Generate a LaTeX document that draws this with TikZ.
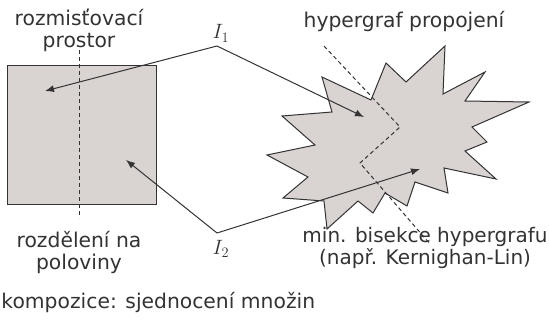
\documentclass[tikz,border=0pt]{standalone}
\usepackage{fontspec}
\setmainfont{DejaVu Sans}
\usetikzlibrary{arrows.meta}

\definecolor{areagray}{RGB}{217,211,209}
\definecolor{inkgray}{RGB}{51,51,51}

\begin{document}
\begin{tikzpicture}[x=1pt, y=-1pt, line width=1pt, draw=inkgray,
  every node/.style={font=\fontsize{20.3}{22}\selectfont, text=inkgray, inner sep=0pt, align=center},
  arr/.style={-{Latex[length=9pt,width=7pt]}, inkgray},
  cut/.style={dashed, dash pattern=on 4pt off 3pt, inkgray}]
\useasboundingbox (0,0) rectangle (549,321);

\draw[inkgray, fill=areagray] (7,66) rectangle (156,204);
\draw[cut] (79,50) -- (79,218);

\draw[inkgray, fill=areagray] (371,100) -- (386,63) -- (406,82) -- (445,46) -- (443,94)
  -- (485,72) -- (465,101) -- (529,102) -- (472,127) -- (487,142) -- (465,151)
  -- (496,179) -- (444,168) -- (448,193) -- (415,182) -- (407,206) -- (385,193)
  -- (373,213) -- (358,201) -- (327,229) -- (324,201) -- (283,198) -- (308,177)
  -- (267,155) -- (315,145) -- (282,116) -- (332,112) -- (322,77) -- cycle;
\draw[cut] (324,46) -- (400,127) -- (360,163) -- (430,244);

\coordinate (I1) at (217,46);
\coordinate (I2) at (217,233);
\coordinate (sq1) at (45,91);
\coordinate (sq2) at (126,160);
\coordinate (hg1) at (364,117);
\coordinate (hg2) at (420,169);

\draw[arr] (I1) -- (sq1);
\draw[arr] (I1) -- (hg1);
\draw[arr] (I2) -- (sq2);
\draw[arr] (I2) -- (hg2);

\node[anchor=base, font=\fontsize{22}{24}\selectfont] (i1) at (221,39) {$I_1$};
\node[anchor=base, font=\fontsize{22}{24}\selectfont] (i2) at (221,254) {$I_2$};

\node[anchor=base] (space) at (79,48) {rozmisťovací\\prostor};
\node[anchor=base] (halves) at (79,269) {rozdělení na\\poloviny};
\node[anchor=base] (hyper) at (404,28) {hypergraf propojení};
\node[anchor=base, font=\fontsize{20}{22}\selectfont] (bisect) at (425,264) {min. bisekce hypergrafu\\(např. Kernighan-Lin)};
\node[anchor=base west] (union) at (1,308) {kompozice: sjednocení množin};
\end{tikzpicture}
\end{document}
